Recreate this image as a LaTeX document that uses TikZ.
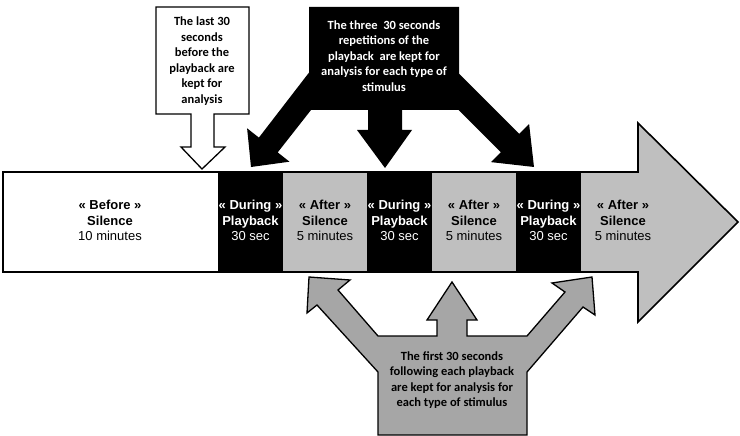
\documentclass[tikz,border=0pt]{standalone}
\usepackage{fontspec}
\setmainfont{Liberation Sans}
\newfontfamily\calibfont{Carlito}
\definecolor{barGray}{HTML}{BFBFBF}
\definecolor{callGray}{HTML}{A6A6A6}
\tikzset{
  bartext/.style={align=center, font=\fontsize{13}{15.5}\selectfont, inner sep=0pt},
  calltext/.style={align=center, font=\calibfont\bfseries\fontsize{12.5}{15.5}\selectfont, inner sep=0pt},
  outline/.style={draw=black, line width=1.6pt, line join=miter},
  calloutline/.style={draw=black, line width=1.3pt, line join=miter}
}
\begin{document}
\begin{tikzpicture}[x=1pt,y=-1pt]
\useasboundingbox (0,0) rectangle (740,436);
% big timeline arrow
\fill[barGray] (3,172) -- (638,172) -- (638,123) -- (738,222) -- (638,322) -- (638,272) -- (3,272) -- cycle;
\fill[white] (3,172) rectangle (218,272);
\fill[black] (218,172) rectangle (283,272);
\fill[black] (367,172) rectangle (432,272);
\fill[black] (516,172) rectangle (581,272);
\draw[outline] (3,172) -- (638,172) -- (638,123) -- (738,222) -- (638,322) -- (638,272) -- (3,272) -- cycle;
% segment texts
\node[bartext] (before) at (110,220.5) {\textbf{« Before »}\\\textbf{Silence}\\10 minutes};
\node[bartext, text=white] (during1) at (250.5,220.5) {\textbf{« During »}\\\textbf{Playback}\\30 sec};
\node[bartext] (after1) at (325,220.5) {\textbf{« After »}\\\textbf{Silence}\\5 minutes};
\node[bartext, text=white] (during2) at (399.5,220.5) {\textbf{« During »}\\\textbf{Playback}\\30 sec};
\node[bartext] (after2) at (474,220.5) {\textbf{« After »}\\\textbf{Silence}\\5 minutes};
\node[bartext, text=white] (during3) at (548.5,220.5) {\textbf{« During »}\\\textbf{Playback}\\30 sec};
\node[bartext] (after3) at (623,220.5) {\textbf{« After »}\\\textbf{Silence}\\5 minutes};
% white callout (before)
\draw[calloutline, fill=white] (156,7) -- (249,7) -- (249,114) -- (214,114) -- (214,147) -- (225,147) -- (202,169) -- (181,147) -- (191,147) -- (191,114) -- (156,114) -- cycle;
\node[calltext] (lastText) at (202,61) {The last 30\\seconds\\before the\\playback are\\kept for\\analysis};
% black callout (during)
\fill[black] (309,7) -- (459,7) -- (459,73.6) -- (519.2,133.8) -- (529.1,123.9) -- (534,167) -- (490.9,162.1) -- (500.8,152.2) -- (458.6,110) -- (402,110) -- (402,130) -- (412,130) -- (385,168) -- (357,130) -- (368,130) -- (368,110) -- (311,110) -- (277.7,152.4) -- (289.5,161.7) -- (251,167) -- (247.1,128.3) -- (258.9,137.6) -- (309,72.6) -- cycle;
\node[calltext, text=white] (threeText) at (384,56) {The three\ \ 30 seconds\\repetitions of the\\playback\ \ are kept for\\analysis for each type of\\stimulus};
% gray callout (after)
\draw[calloutline, fill=callGray] (378,336) -- (437,336) -- (437,320) -- (427,320) -- (452,282) -- (477,320) -- (467,320) -- (467,336) -- (527,336) -- (565,292) -- (552,283) -- (592,277) -- (595,315) -- (583,307) -- (527,372) -- (527,435) -- (378,435) -- (378,372) -- (317,305) -- (307,313) -- (309,277) -- (350,280) -- (338,290) -- cycle;
\node[calltext] (firstText) at (452,380) {The first 30 seconds\\following each playback\\are kept for analysis for\\each type of stimulus};
\end{tikzpicture}
\end{document}
